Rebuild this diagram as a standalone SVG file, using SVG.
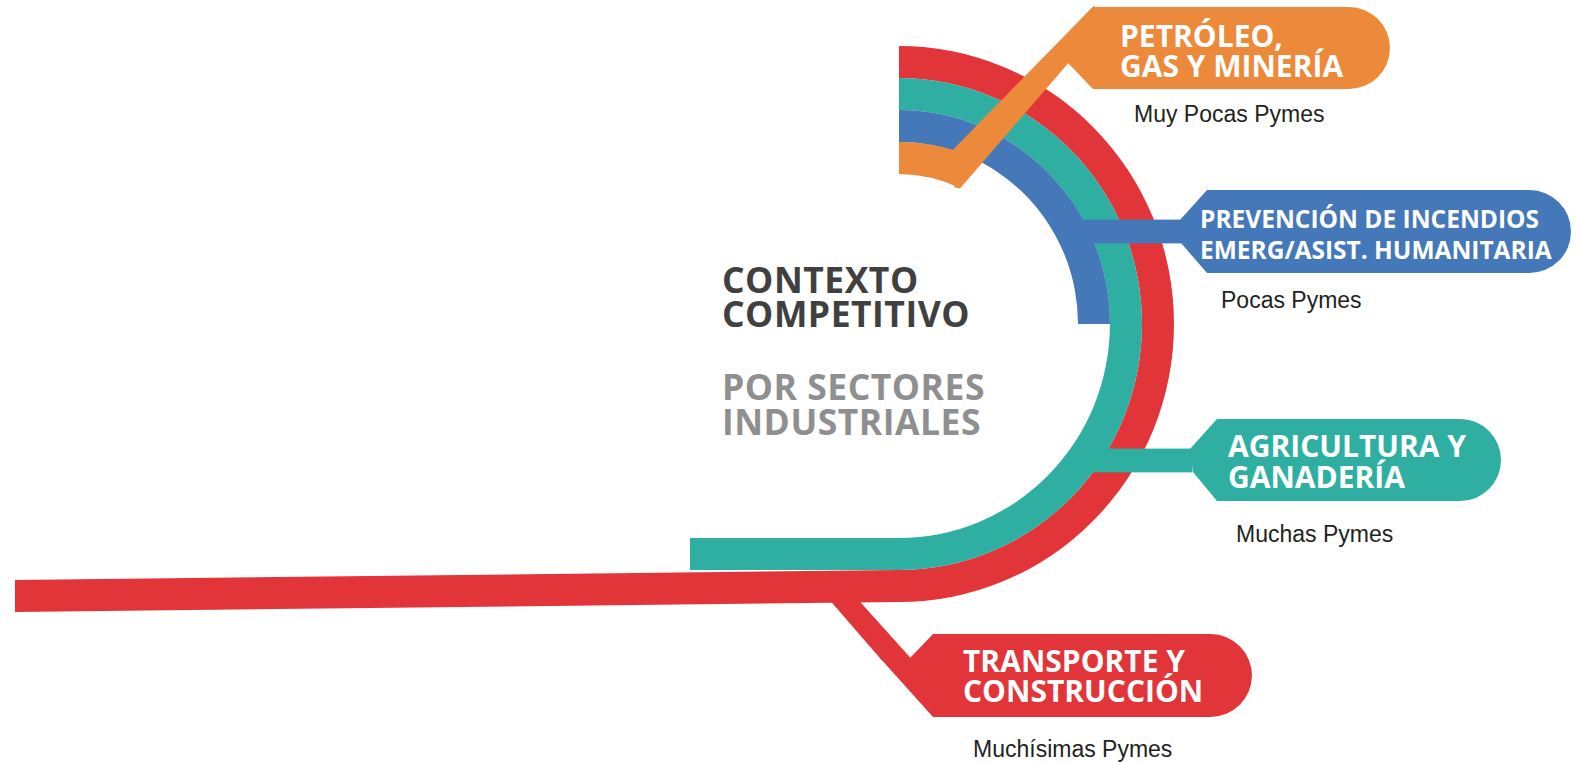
<svg xmlns="http://www.w3.org/2000/svg" width="1577" height="762" viewBox="0 0 1577 762">
<style>
.lbl{font-family:"Open Sans","Liberation Sans",sans-serif;font-weight:700;fill:#ffffff;}
.big{font-size:30px;}
.mid{font-size:24.5px;}
.sub{font-family:"Liberation Sans",Arial,sans-serif;font-size:23px;fill:#231f20;}
.title{font-family:"Open Sans","Liberation Sans",sans-serif;font-weight:700;font-size:35.5px;letter-spacing:0.5px;}
.red{fill:#e1353a;}
.teal{fill:#2eafa2;}
.blue{fill:#4478b8;}
.orange{fill:#ec893a;}
.stem{stroke-width:0.8;stroke-linejoin:miter;}
</style>
<rect width="1577" height="762" fill="#ffffff"/>
<g id="node-transporte">
  <path class="red" d="M899,46 A275,278 0 0 1 899,602 L15,612 L15,580 L899,570 A243,246 0 0 0 899,78 Z"/>
  <path class="red" d="M880,658 L910,658 L933,634 L1210.5,634 A41.5,41.5 0 0 1 1210.5,717 L933,717 Z"/>
  <text class="lbl big"><tspan x="963" y="672">TRANSPORTE Y</tspan><tspan x="963" y="702">CONSTRUCCIÓN</tspan></text>
  <text class="sub" x="973" y="757">Muchísimas Pymes</text>
</g>
<g id="node-agricultura">
  <path class="teal" d="M899,78 A243,246 0 0 1 899,570 L690,570 L690,538 L899,538 A211,214 0 0 0 899,110 Z"/>
  <path class="teal" d="M1190,449 L1217,419 L1460,419 A41,41 0 0 1 1460,501 L1217,501 L1193,472 Z"/>
  <text class="lbl big"><tspan x="1228" y="457">AGRICULTURA Y</tspan><tspan x="1228" y="488">GANADERÍA</tspan></text>
  <text class="sub" x="1236" y="542">Muchas Pymes</text>
</g>
<g id="node-prevencion">
  <path class="blue" d="M899,110 A211,214 0 0 1 1110,324 L1078,324 A179,182 0 0 0 899,142 Z"/>
  <path class="blue" d="M1180,220 L1207,190 L1529.5,190 A41.5,41.5 0 0 1 1529.5,273 L1207,273 L1181,243 Z"/>
  <text class="lbl mid"><tspan x="1200" y="228">PREVENCIÓN DE INCENDIOS</tspan><tspan x="1200" y="259">EMERG/ASIST. HUMANITARIA</tspan></text>
  <text class="sub" x="1221" y="308">Pocas Pymes</text>
</g>
<g id="node-petroleo">
  <path class="orange" d="M899,142 A179,182 0 0 1 953,150 L960,188 A147,150 0 0 0 899,174 Z"/>
  <path class="orange" d="M1093,7 L1349,7 A41,41 0 0 1 1349,89 L1093,89 L1068,63 Z"/>
  <text class="lbl big"><tspan x="1120" y="47">PETRÓLEO,</tspan><tspan x="1120" y="77">GAS Y MINERÍA</tspan></text>
  <text class="sub" x="1134" y="122">Muy Pocas Pymes</text>
</g>
<g id="center-title">
  <text class="title" fill="#404040"><tspan x="722" y="293">CONTEXTO</tspan><tspan x="722" y="327">COMPETITIVO</tspan></text>
  <text class="title" fill="#8f8f8f"><tspan x="722" y="400">POR SECTORES</tspan><tspan x="722" y="435">INDUSTRIALES</tspan></text>
</g>
<g id="connectors">
  <path class="red stem" stroke="#e1353a" d="M830,600 L858,600 L912,660 L882,660 Z"/>
  <path class="teal stem" stroke="#2eafa2" d="M1075,449 L1192,449 L1192,472 L1075,472 Z"/>
  <path class="blue stem" stroke="#4478b8" d="M1060,220 L1182,220 L1182,243 L1060,243 Z"/>
  <path class="orange stem" stroke="#ec893a" d="M951,152 L953,150 L1094,6 L1094,30 L1068,63 L960,188 L955,187 Z"/>
</g>
</svg>
